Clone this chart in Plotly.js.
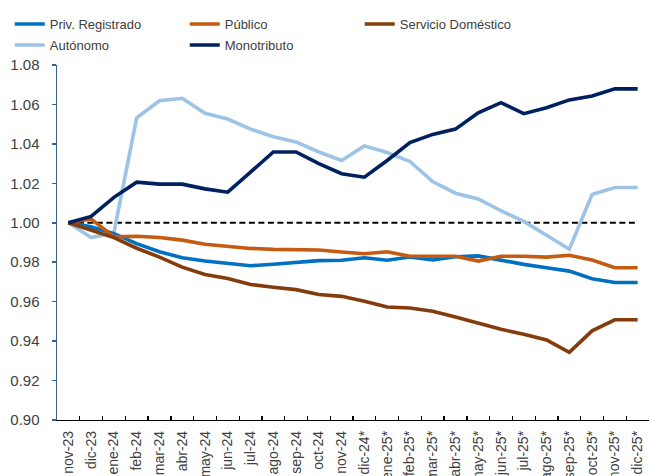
<!DOCTYPE html>
<html>
<head>
<meta charset="utf-8">
<script src="https://cdn.plot.ly/plotly-3.0.1.min.js"></script>
<style>
  html, body { margin: 0; padding: 0; background: #ffffff; }
  #chart { width: 649px; height: 476px; }
</style>
</head>
<body>
<div id="chart"></div>
<script>
const categories = ["nov-23","dic-23","ene-24","feb-24","mar-24","abr-24","may-24","jun-24","jul-24","ago-24","sep-24","oct-24","nov-24","dic-24*","ene-25*","feb-25*","mar-25*","abr-25*","may-25*","jun-25*","jul-25*","ago-25*","sep-25*","oct-25*","nov-25*","dic-25*"];

const privRegistrado = [1.000,0.998,0.9945,0.9894,0.9853,0.9823,0.9806,0.9792,0.9782,0.9790,0.9801,0.9808,0.9810,0.9823,0.9810,0.9826,0.9811,0.9828,0.9832,0.9810,0.9789,0.9772,0.9755,0.9716,0.9697,0.9697];
const publico = [1.000,1.0019,0.9929,0.9932,0.9925,0.9912,0.9891,0.9880,0.9870,0.9865,0.9865,0.9862,0.9852,0.9843,0.9853,0.9830,0.9830,0.9830,0.9806,0.9830,0.9830,0.9826,0.9835,0.9811,0.9772,0.9772];
const servicioDomestico = [1.000,0.9963,0.9925,0.9871,0.9826,0.9775,0.9738,0.9718,0.9687,0.9673,0.9661,0.9636,0.9627,0.9602,0.9573,0.9568,0.9551,0.9522,0.9491,0.9460,0.9435,0.9406,0.9343,0.9452,0.9508,0.9508];
const autonomo = [1.000,0.9925,0.9950,1.0532,1.0619,1.0631,1.0555,1.0526,1.0475,1.0436,1.0410,1.0359,1.0316,1.0390,1.0356,1.0311,1.0209,1.0150,1.0121,1.0061,1.0007,0.9935,0.9866,1.0143,1.0179,1.0179];
const monotributo = [1.000,1.0032,1.0129,1.0206,1.0196,1.0196,1.0172,1.0155,1.0257,1.0359,1.0359,1.0300,1.0249,1.0231,1.0316,1.0407,1.0448,1.0475,1.0558,1.0609,1.0553,1.0583,1.0623,1.0643,1.0679,1.0679];
const baseline = categories.map(() => 1.00);

const seriesNames = ["Priv. Registrado","Público","Servicio Doméstico","Autónomo","Monotributo"];
const seriesValues = [privRegistrado, publico, servicioDomestico, autonomo, monotributo];
const seriesColors = ["#0070C0","#C55A11","#843C0C","#9DC3E6","#002060"];
const seriesLegend = ["legend","legend","legend","legend2","legend2"];
const yTickVals = [0.90,0.92,0.94,0.96,0.98,1.00,1.02,1.04,1.06,1.08];

const traces = [{
  x: categories, y: baseline, type: "scatter", mode: "lines",
  line: { color: "#000000", width: 2, dash: "6px,3.5px" },
  showlegend: false, hoverinfo: "skip"
}];
const order = [3,0,1,2,4];
order.forEach(i => {
  traces.push({
    x: categories, y: seriesValues[i], name: seriesNames[i],
    type: "scatter", mode: "lines",
    line: { color: seriesColors[i], width: 3.6 },
    legend: seriesLegend[i],
    legendrank: i + 1
  });
});

const legendCommon = {
  orientation: "h", xref: "container", yref: "container",
  xanchor: "left", yanchor: "top",
  entrywidth: 130, entrywidthmode: "pixels",
  font: { size: 13, color: "#404040", family: "Liberation Sans, Arial, sans-serif" },
  traceorder: "normal", itemwidth: 30,
  bgcolor: "rgba(0,0,0,0)"
};

const layout = {
  width: 649, height: 476,
  paper_bgcolor: "#ffffff", plot_bgcolor: "#ffffff",
  margin: { l: 57, r: 0, t: 65, b: 56, autoexpand: false },
  font: { family: "Liberation Sans, Arial, sans-serif", color: "#404040" },
  showlegend: true,
  legend: Object.assign({}, legendCommon, { x: 0.015, y: 0.981 }),
  legend2: Object.assign({}, legendCommon, { x: 0.015, y: 0.937 }),
  xaxis: {
    type: "category", range: [-0.5, 25.5],
    showgrid: false, zeroline: false,
    showline: true, linecolor: "#000000", linewidth: 1.3,
    ticks: "inside", tickson: "boundaries", ticklen: 4, tickcolor: "#000000", tickwidth: 1.3,
    tickangle: -90, tickfont: { size: 14, color: "#404040" },
    ticklabelstandoff: 4
  },
  yaxis: {
    range: [0.90, 1.08], tickvals: yTickVals,
    ticktext: yTickVals.map(v => v.toFixed(2)),
    showgrid: false, zeroline: false,
    showline: true, linecolor: "#3A6291", linewidth: 1.5,
    ticks: "outside", ticklen: 4, tickcolor: "#3A6291", tickwidth: 1.5,
    tickfont: { size: 15, color: "#404040" },
    ticklabelstandoff: 9
  }
};

Plotly.newPlot("chart", traces, layout, { displayModeBar: false, staticPlot: true });
</script>
</body>
</html>
